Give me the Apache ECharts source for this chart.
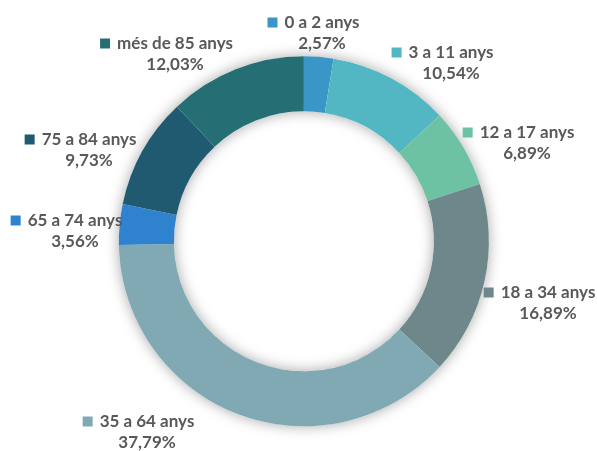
<!DOCTYPE html>
<html>
<head>
<meta charset="utf-8">
<script src="https://cdn.jsdelivr.net/npm/echarts@6/dist/echarts.min.js"></script>
<style>
  html, body { margin: 0; padding: 0; background: #fff; }
  #chart { width: 597px; height: 451px; }
</style>
</head>
<body>
<div id="chart"></div>
<script>
// grups d'edat i percentatges
const categories = ['0 a 2 anys', '3 a 11 anys', '12 a 17 anys', '18 a 34 anys', '35 a 64 anys', '65 a 74 anys', '75 a 84 anys', 'més de 85 anys']
const values = [2.57, 10.54, 6.89, 16.89, 37.79, 3.56, 9.73, 12.03]
const colors = ['#3996c6', '#52b7c3', '#6cc2a3', '#6e878b', '#80a9b4', '#2f83ce', '#1f5a71', '#256f74']

// posicio de les etiquetes (centre del text)
const labelAt = [[322, 33], [451, 63], [527, 143], [548, 303], [147, 432], [75, 231], [89, 150], [175, 54]]

const fmt = v => v.toFixed(2).replace('.', ',') + '%'

const chart = echarts.init(document.getElementById('chart'))

const rich = {
  name: { fontFamily: 'Lato', fontWeight: 'bold', fontSize: 17, color: '#595959', lineHeight: 21, padding: [0, 0, 0, 7] },
  pct: { fontFamily: 'Lato', fontWeight: 'bold', fontSize: 17, color: '#595959', lineHeight: 21 },
  sp: { width: 17, height: 10 }
}
colors.forEach((c, i) => {
  rich['sq' + i] = { width: 10, height: 10, backgroundColor: c }
})

chart.setOption({
  animation: false,
  series: [
    {
      // anell de fons per l'ombra
      type: 'pie',
      silent: true,
      center: ['50.9%', '53.5%'],
      radius: [130, 185],
      label: { show: false },
      labelLine: { show: false },
      itemStyle: { color: '#fff', shadowBlur: 14, shadowColor: 'rgba(0,0,0,0.35)' },
      data: [{ value: 1 }]
    },
    {
      type: 'pie',
      center: ['50.9%', '53.5%'],
      radius: [130, 185],
      startAngle: 90,
      clockwise: true,
      labelLine: { show: false },
      label: {
        show: true,
        position: 'outside',
        align: 'center',
        overflow: 'none',
        width: 200,
        formatter: p => `{sq${p.dataIndex}|}{name|${p.name}}\n{sp|}{pct|${fmt(p.value)}}`,
        rich: rich
      },
      labelLayout: p => ({
        x: labelAt[p.dataIndex][0] - 8.5,
        y: labelAt[p.dataIndex][1],
        align: 'center',
        verticalAlign: 'middle'
      }),
      data: categories.map((name, i) => ({
        name: name,
        value: values[i],
        itemStyle: { color: colors[i] }
      }))
    }
  ]
})
</script>
</body>
</html>
